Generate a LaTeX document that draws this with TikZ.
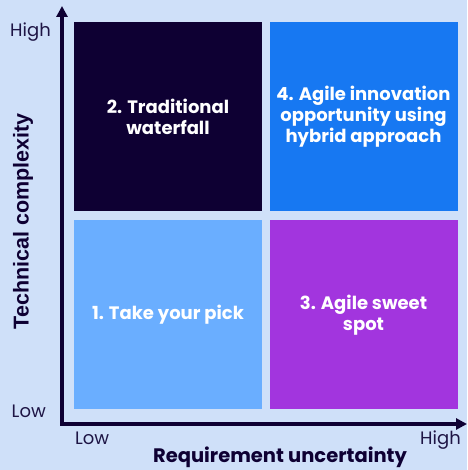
\documentclass[tikz,border=0pt]{standalone}
\usepackage{fontspec}
\setmainfont{Poppins}
\newfontfamily\arialb{Liberation Sans Bold}
\usetikzlibrary{arrows.meta}
\definecolor{bg}{HTML}{CFE0F9}
\definecolor{navy}{HTML}{0E0033}
\definecolor{tickc}{HTML}{1E1545}
\definecolor{qtl}{HTML}{0E0033}
\definecolor{qtr}{HTML}{1778F2}
\definecolor{qbl}{HTML}{6AAEFF}
\definecolor{qbr}{HTML}{A235DE}
\begin{document}
\begin{tikzpicture}[x=1pt,y=1pt,
  quad/.style={draw=none,minimum width=188pt,minimum height=189pt,inner sep=0pt,text=white,font=\fontsize{18}{21}\selectfont\bfseries,align=center},
  axis/.style={draw=navy,line width=3.5pt,-{Triangle[width=11pt,length=11pt]}},
  tick/.style={text=tickc,inner sep=0pt,font=\fontsize{18}{20}\selectfont},
  title/.style={text=navy,inner sep=0pt,font=\fontsize{19.5}{22}\selectfont\bfseries}]
\fill[bg] (0,0) rectangle (467,470);
\useasboundingbox (0,0) rectangle (467,470);
\node[quad,fill=qtl] (tl) at (168,353.5) {2. Traditional\\waterfall};
\node[quad,fill=qtr] (tr) at (363.5,353.5) {4. Agile innovation\\opportunity using\\hybrid approach};
\node[quad,fill=qbl] (bl) at (168,155) {1. Take your pick};
\node[quad,fill=qbr] (br) at (363.5,155) {3. Agile sweet\\spot};
\coordinate (o) at (62,46);
\coordinate (ytip) at (62,464);
\coordinate (xtip) at (467,46);
\draw[axis] ([yshift=-1.75pt]o) -- (ytip);
\draw[axis] ([xshift=-1.75pt]o) -- (xtip);
\node[tick,anchor=base east] (yh) at (51,433) {High};
\node[tick,anchor=base east] (yl) at (46,52) {Low};
\node[tick,anchor=base west] (xl) at (75,25) {Low};
\node[tick,anchor=base east] (xh) at (461,25) {High};
\node[title,anchor=base] (xt) at (280,7) {Requirement uncertainty};
\node[text=navy,inner sep=0pt,font=\arialb\fontsize{21.5}{24}\selectfont,rotate=90] (yt) at (23,248.5) {Technical complexity};
\end{tikzpicture}
\end{document}
